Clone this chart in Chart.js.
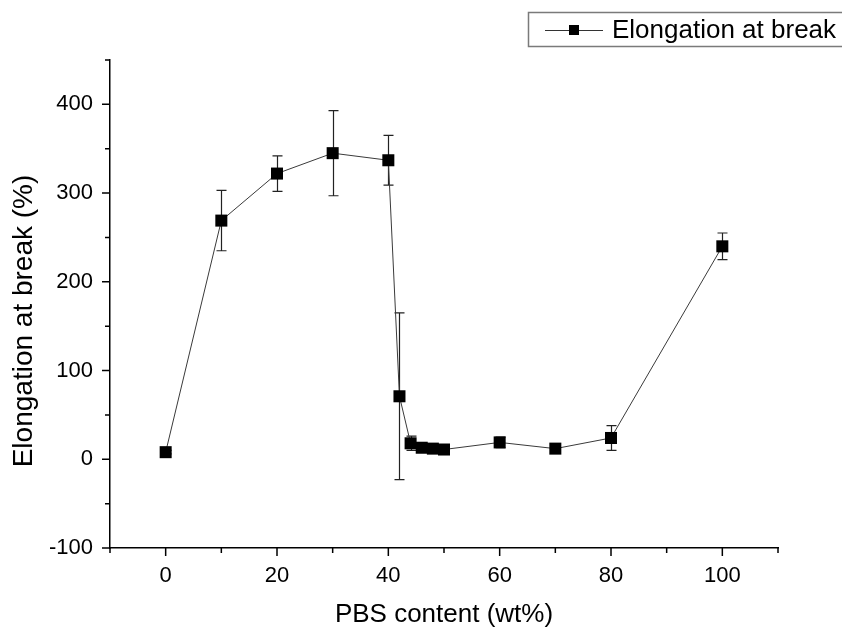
<!DOCTYPE html>
<html>
<head>
<meta charset="utf-8">
<script src="https://cdn.jsdelivr.net/npm/chart.js@4.4.0/dist/chart.umd.min.js"></script>
<style>
  html, body { margin: 0; padding: 0; background: #ffffff; }
  #wrap { width: 842px; height: 630px; position: relative; }
</style>
</head>
<body>
<div id="wrap"><canvas id="c" width="842" height="630"></canvas></div>
<script>
// ---- data ----
const pbsContent = [0, 10, 20, 30, 40, 42, 44, 46, 48, 50, 60, 70, 80, 100];
const elongation = [8, 269, 322, 345, 337, 71, 18, 13, 12, 11, 19, 12, 24, 240];
const elongationErr = [2, 34, 20, 48, 28, 94, 8, 3, 2, 2, 6, 3, 14, 15];
const seriesName = 'Elongation at break';
const xTitle = 'PBS content (wt%)';
const yTitle = 'Elongation at break (%)';

const FONT = "'Liberation Sans', Arial, sans-serif";

const points = pbsContent.map((x, i) => ({ x: x, y: elongation[i] }));

const errorBarPlugin = {
  id: 'errorBars',
  beforeDatasetsDraw(chart) {
    const ctx = chart.ctx;
    const xs = chart.scales.x, ys = chart.scales.y;
    ctx.save();
    ctx.strokeStyle = '#222';
    ctx.lineWidth = 1.2;
    pbsContent.forEach((x, i) => {
      const px = Math.round(xs.getPixelForValue(x)) + 0.5;
      const top = ys.getPixelForValue(elongation[i] + elongationErr[i]);
      const bot = ys.getPixelForValue(elongation[i] - elongationErr[i]);
      ctx.beginPath();
      ctx.moveTo(px, top); ctx.lineTo(px, bot);
      ctx.moveTo(px - 5, top); ctx.lineTo(px + 5, top);
      ctx.moveTo(px - 5, bot); ctx.lineTo(px + 5, bot);
      ctx.stroke();
    });
    ctx.restore();
  }
};

const axisTickPlugin = {
  id: 'axisTicks',
  afterDraw(chart) {
    const ctx = chart.ctx;
    const xs = chart.scales.x, ys = chart.scales.y;
    const area = chart.chartArea;
    ctx.save();
    ctx.strokeStyle = '#000';
    ctx.lineWidth = 1.5;
    ctx.beginPath();
    xs.ticks.forEach(t => {
      const px = xs.getPixelForValue(t.value);
      const len = (t.value % 20 === 0) ? 8 : 5;
      ctx.moveTo(px, area.bottom); ctx.lineTo(px, area.bottom + len);
    });
    ys.ticks.forEach(t => {
      const py = ys.getPixelForValue(t.value);
      const len = (t.value % 100 === 0) ? 8 : 5;
      ctx.moveTo(area.left, py); ctx.lineTo(area.left - len, py);
    });
    ctx.stroke();
    ctx.restore();

    // y axis title
    ctx.save();
    ctx.translate(24, 321);
    ctx.rotate(-Math.PI / 2);
    ctx.font = '28px ' + FONT;
    ctx.fillStyle = '#000';
    ctx.textAlign = 'center';
    ctx.textBaseline = 'middle';
    ctx.fillText(yTitle, 0, 0);
    ctx.restore();

    // legend
    ctx.save();
    ctx.strokeStyle = '#7a7a7a';
    ctx.lineWidth = 1.5;
    ctx.strokeRect(528.5, 12.5, 330, 34);
    const cy = 30;
    ctx.strokeStyle = '#333';
    ctx.lineWidth = 1;
    ctx.beginPath();
    ctx.moveTo(545, cy + 0.5); ctx.lineTo(603, cy + 0.5);
    ctx.stroke();
    ctx.fillStyle = '#000';
    ctx.fillRect(569, cy - 5, 10, 10);
    ctx.font = '26px ' + FONT;
    ctx.textBaseline = 'middle';
    ctx.textAlign = 'left';
    ctx.fillText(seriesName, 612, cy + 1);
    ctx.restore();
  }
};

new Chart(document.getElementById('c'), {
  type: 'line',
  data: {
    datasets: [{
      label: seriesName,
      data: points,
      borderColor: '#3a3a3a',
      borderWidth: 1,
      pointStyle: 'rect',
      pointRadius: 8.5,
      pointBackgroundColor: '#000',
      pointBorderColor: '#000',
      pointBorderWidth: 0,
      tension: 0,
      fill: false
    }]
  },
  options: {
    responsive: false,
    animation: false,
    devicePixelRatio: 1,
    layout: { padding: { top: 60, right: 64, left: 0, bottom: 0 } },
    plugins: {
      legend: { display: false },
      tooltip: { enabled: false },
      title: { display: false }
    },
    scales: {
      x: {
        type: 'linear',
        min: -10, max: 110,
        grid: { display: false, drawTicks: false },
        border: { display: true, color: '#000', width: 1.5 },
        ticks: {
          stepSize: 10,
          padding: 15,
          color: '#000',
          font: { family: FONT, size: 22 },
          maxRotation: 0,
          autoSkip: false,
          callback: v => (v % 20 === 0 ? String(v) : '')
        },
        title: {
          display: true, text: xTitle, color: '#000',
          font: { family: FONT, size: 26 },
          padding: { top: 3, bottom: 0 }
        },
        afterFit: s => { s.height = 82; }
      },
      y: {
        type: 'linear',
        min: -100, max: 450,
        grid: { display: false, drawTicks: false },
        border: { display: true, color: '#000', width: 1.5 },
        ticks: {
          stepSize: 50,
          padding: 17,
          color: '#000',
          font: { family: FONT, size: 22 },
          autoSkip: false,
          callback: v => (v % 100 === 0 ? String(v) : '')
        },
        title: { display: false },
        afterFit: s => { s.width = 110; }
      }
    }
  },
  plugins: [errorBarPlugin, axisTickPlugin]
});
</script>
</body>
</html>
